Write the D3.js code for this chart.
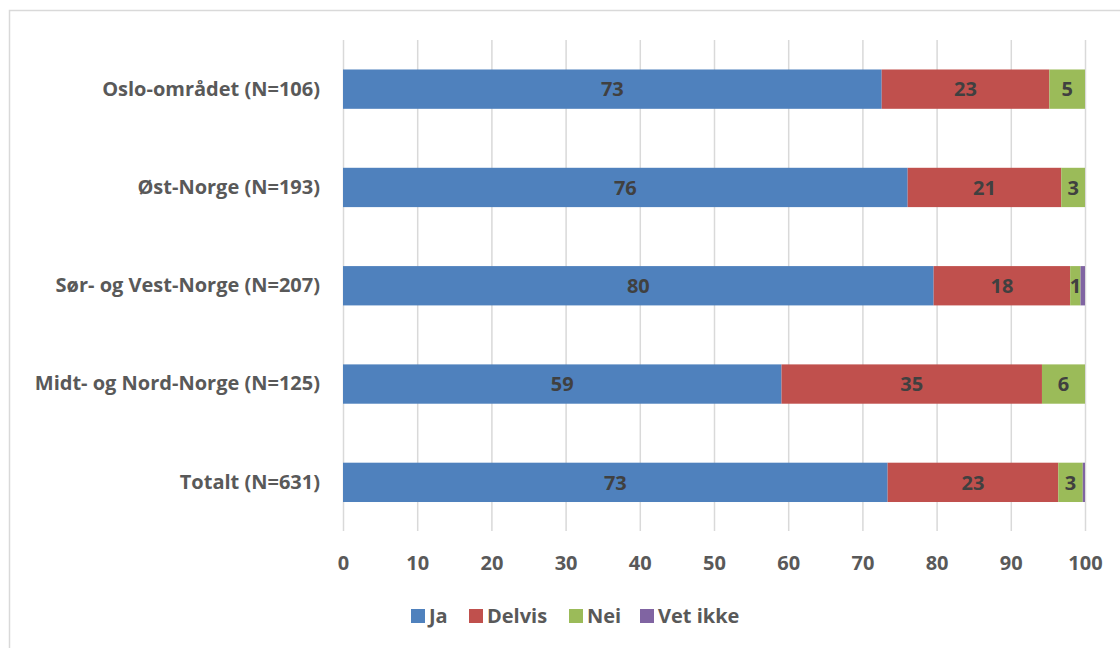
<!DOCTYPE html>
<html>
<head>
<meta charset="utf-8">
<script src="https://cdn.jsdelivr.net/npm/d3@7"></script>
<style>
  html, body { margin: 0; padding: 0; background: #fff; }
  svg { display: block; }
  text { font-family: "Open Sans", Lato, sans-serif; font-weight: bold; }
</style>
</head>
<body>
<svg id="chart" width="1120" height="648"></svg>
<script>
// Regions (top to bottom)
const categories = [
  "Oslo-området (N=106)",
  "Øst-Norge (N=193)",
  "Sør- og Vest-Norge (N=207)",
  "Midt- og Nord-Norge (N=125)",
  "Totalt (N=631)"
];
const seriesNames = ["Ja", "Delvis", "Nei", "Vet ikke"];
// Percent per answer, in category order
const ja      = [72.6, 76.1, 79.6, 59.1, 73.4];
const delvis  = [22.6, 20.7, 18.4, 35.1, 23.0];
const nei     = [4.8, 3.2, 1.4, 5.8, 3.3];
const vetIkke = [0.0, 0.0, 0.6, 0.0, 0.3];
const xTicks = [0, 10, 20, 30, 40, 50, 60, 70, 80, 90, 100];

const colors = ["#4F81BD", "#C0504D", "#9BBB59", "#8064A2"];
const seriesValues = [ja, delvis, nei, vetIkke];
const FONT = "'Open Sans', Lato, sans-serif";
const FS = "20px";

const rows = categories.map((c, i) => {
  const r = { cat: c };
  seriesNames.forEach((s, k) => { r[s] = seriesValues[k][i]; });
  return r;
});

const svg = d3.select("#chart");

// outer chart frame
svg.append("rect")
  .attr("x", 9.5).attr("y", 10.5)
  .attr("width", 1130).attr("height", 660)
  .attr("fill", "none").attr("stroke", "#d9d9d9").attr("stroke-width", 1.5);

const x = d3.scaleLinear().domain([0, 100]).range([343, 1085]);
const y = d3.scaleBand().domain(categories).range([40, 531.5])
  .paddingInner(0.6).paddingOuter(0.3);

// vertical gridlines
svg.append("g").selectAll("line").data(xTicks).join("line")
  .attr("x1", d => x(d) + 0.5).attr("x2", d => x(d) + 0.5)
  .attr("y1", 40).attr("y2", 531)
  .attr("stroke", "#d9d9d9").attr("stroke-width", 1.5);

// x tick labels
const xAxis = d3.axisBottom(x).tickValues(xTicks).tickSize(0).tickPadding(0);
const gx = svg.append("g").attr("transform", "translate(0,570)").call(xAxis);
gx.select(".domain").remove();
gx.selectAll("text")
  .attr("dy", 0)
  .attr("fill", "#595959")
  .style("font-size", FS)
  .style("font-family", FONT)
  .style("font-weight", "bold");

// category labels
const yAxis = d3.axisLeft(y).tickSize(0).tickPadding(0);
const gy = svg.append("g").attr("transform", "translate(320,0)").call(yAxis);
gy.select(".domain").remove();
gy.selectAll("text")
  .attr("fill", "#595959")
  .style("font-size", FS)
  .style("font-family", FONT)
  .style("font-weight", "bold");

// stacked bars
const stack = d3.stack().keys(seriesNames)(rows);
const layers = svg.append("g").selectAll("g").data(stack).join("g")
  .attr("fill", (d, i) => colors[i]);

layers.selectAll("rect").data(d => d).join("rect")
  .attr("x", d => x(d[0]))
  .attr("y", d => y(d.data.cat))
  .attr("width", d => Math.max(0, x(d[1]) - x(d[0])))
  .attr("height", y.bandwidth());

// value labels (Vet ikke is left unlabeled)
const fmt = d3.format(".0f");
stack.forEach((layer, i) => {
  if (seriesNames[i] === "Vet ikke") return;
  svg.append("g").selectAll("text").data(layer.filter(d => d[1] - d[0] > 0)).join("text")
    .attr("x", d => (x(d[0]) + x(d[1])) / 2)
    .attr("y", d => y(d.data.cat) + y.bandwidth() / 2)
    .attr("dy", "0.36em")
    .attr("text-anchor", "middle")
    .attr("fill", "#404040")
    .style("font-size", FS)
    .text(d => fmt(d[1] - d[0]));
});

// legend
const legendX = [411, 469, 569, 640];
const lg = svg.append("g").selectAll("g").data(seriesNames).join("g")
  .attr("transform", (d, i) => `translate(${legendX[i]},609)`);
lg.append("rect").attr("width", 14).attr("height", 14)
  .attr("fill", (d, i) => colors[i]);
lg.append("text").attr("x", 18).attr("y", 7).attr("dy", "0.36em")
  .attr("fill", "#595959").style("font-size", FS)
  .text(d => d);
</script>
</body>
</html>
